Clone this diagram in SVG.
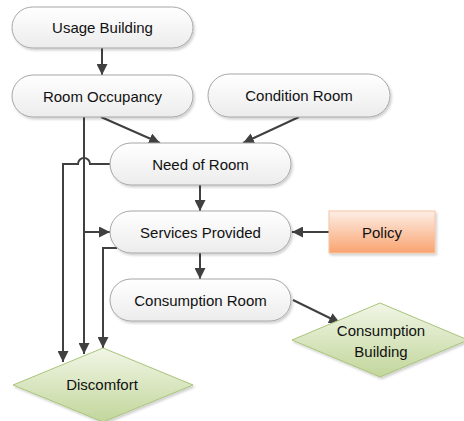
<svg xmlns="http://www.w3.org/2000/svg" width="464" height="421" viewBox="0 0 464 421">
<defs>
<linearGradient id="gWhite" x1="0" y1="0" x2="0" y2="1"><stop offset="0" stop-color="#ffffff"/><stop offset="1" stop-color="#ececec"/></linearGradient>
<linearGradient id="gOrange" x1="0" y1="0" x2="0" y2="1"><stop offset="0" stop-color="#fdeee6"/><stop offset="1" stop-color="#f9a36f"/></linearGradient>
<linearGradient id="gGreen" x1="0" y1="0" x2="0" y2="1"><stop offset="0" stop-color="#f1f6e6"/><stop offset="1" stop-color="#c2d69b"/></linearGradient>
<filter id="sh" x="-10%" y="-10%" width="130%" height="140%"><feDropShadow dx="1.5" dy="2" stdDeviation="1.2" flood-color="#000" flood-opacity="0.18"/></filter>
<marker id="ah" markerWidth="11" markerHeight="11" viewBox="0 0 10 10" refX="10" refY="5" orient="auto" markerUnits="userSpaceOnUse"><path d="M0,0 L10,5 L0,10 Z" fill="#404040"/></marker>
<style>
.pill{fill:url(#gWhite);stroke:#a6a6a6;stroke-width:1;filter:url(#sh)}
.pol{fill:url(#gOrange);stroke:#f7c3a3;stroke-width:1;filter:url(#sh)}
.dia{fill:url(#gGreen);stroke:#a9c47a;stroke-width:1;filter:url(#sh)}
.t{font-family:"Liberation Sans",Arial,sans-serif;font-size:15px;fill:#111;text-anchor:middle;dominant-baseline:central}
.c{fill:none;stroke:#404040;stroke-width:2}
.ca{fill:none;stroke:#404040;stroke-width:2;marker-end:url(#ah)}
</style>
</defs>
<rect width="464" height="421" fill="#ffffff"/>
<g id="connectors">
<path class="ca" d="M102,48 L102,75"/>
<path class="ca" d="M101,117 L160,143"/>
<path class="ca" d="M299,117 L243,143"/>
<path class="ca" d="M200,185 L200,211"/>
<path class="ca" d="M200,253 L200,279"/>
<path class="ca" d="M329,232 L292,232"/>
<path class="ca" d="M293,300 L340,323"/>
<path class="ca" d="M84,117 L84,354"/>
<path class="ca" d="M84,232 L110,232"/>
<path class="ca" d="M110,164 L90,164 A6,6 0 0 0 78,164 L63,164 L63,362"/>
<path class="ca" d="M117,248 L103,248 L103,348"/>
</g>
<g id="usage-building"><rect class="pill" x="12" y="7" width="181" height="41" rx="20.5"/><text class="t" x="102.5" y="27.5">Usage Building</text></g>
<g id="room-occupancy"><rect class="pill" x="12" y="75" width="181" height="42" rx="21"/><text class="t" x="102.5" y="96">Room Occupancy</text></g>
<g id="condition-room"><rect class="pill" x="208" y="74" width="182" height="43" rx="21.5"/><text class="t" x="299" y="95.5">Condition Room</text></g>
<g id="need-of-room"><rect class="pill" x="110" y="143" width="181" height="42" rx="21"/><text class="t" x="200.5" y="164">Need of Room</text></g>
<g id="services-provided"><rect class="pill" x="110" y="211" width="181" height="42" rx="21"/><text class="t" x="200.5" y="232">Services Provided</text></g>
<g id="policy"><rect class="pol" x="329" y="211" width="106" height="42"/><text class="t" x="382" y="232">Policy</text></g>
<g id="consumption-room"><rect class="pill" x="110" y="279" width="181" height="42" rx="21"/><text class="t" x="200.5" y="300">Consumption Room</text></g>
<g id="consumption-building"><polygon class="dia" points="380,303 468,340 380,377 292,340"/><text class="t" x="381" y="330">Consumption</text><text class="t" x="381" y="351">Building</text></g>
<g id="discomfort"><polygon class="dia" points="103,348 193,385 103,422 13,385"/><text class="t" x="102" y="384">Discomfort</text></g>
</svg>
